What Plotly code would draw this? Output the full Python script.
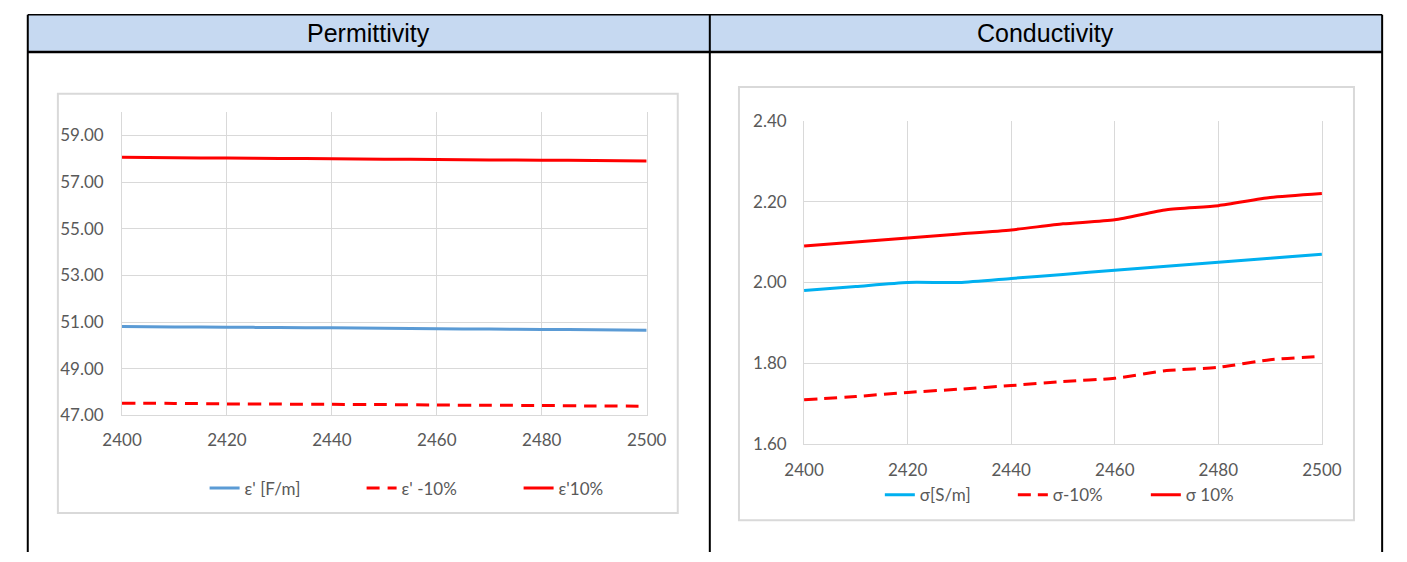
import plotly.graph_objects as go

# ---------------- data ----------------
freq = [2400, 2410, 2420, 2430, 2440, 2450, 2460, 2470, 2480, 2490, 2500]

eps = [50.81, 50.79, 50.78, 50.76, 50.75, 50.73, 50.71, 50.70, 50.68, 50.67, 50.65]
eps_m10 = [47.52, 47.51, 47.49, 47.48, 47.47, 47.46, 47.44, 47.43, 47.42, 47.40, 47.39]
eps_p10 = [58.06, 58.04, 58.03, 58.01, 58.00, 57.98, 57.97, 57.95, 57.94, 57.92, 57.90]

sig = [1.98, 1.99, 2.00, 2.00, 2.01, 2.02, 2.03, 2.04, 2.05, 2.06, 2.07]
sig_m10 = [1.71, 1.718, 1.728, 1.736, 1.745, 1.755, 1.763, 1.782, 1.79, 1.809, 1.817]
sig_p10 = [2.09, 2.10, 2.11, 2.12, 2.13, 2.145, 2.155, 2.18, 2.19, 2.21, 2.22]

x_ticks = [2400, 2420, 2440, 2460, 2480, 2500]
eps_ticks = [47, 49, 51, 53, 55, 57, 59]
sig_ticks = [1.6, 1.8, 2.0, 2.2, 2.4]

titles = ["Permittivity", "Conductivity"]
eps_names = ["ε' [F/m]", "ε' -10%", "ε'10%"]
sig_names = ["σ[S/m]", "σ-10%", "σ 10%"]

# ---------------- layout helpers ----------------
W, H = 1407, 562
def X(px):
    return px / W
def Y(py):
    return 1 - py / H

RED = "#FF0000"
BLUE = "#5B9BD5"
CYAN = "#00B0F0"
GRID = "#D9D9D9"
TXT = "#595959"
FONT = "Lato, Carlito, sans-serif"

fig = go.Figure()

def add(xs, ys, name, color, dash, xa, ya, legend):
    fig.add_trace(go.Scatter(
        x=xs, y=ys, name=name, mode="lines",
        line=dict(color=color, width=3, dash=dash, shape="spline", smoothing=0.6),
        xaxis=xa, yaxis=ya, legend=legend, hoverinfo="skip",
    ))

add(freq, eps, eps_names[0], BLUE, "solid", "x", "y", "legend")
add(freq, eps_m10, eps_names[1], RED, "13px,8px", "x", "y", "legend")
add(freq, eps_p10, eps_names[2], RED, "solid", "x", "y", "legend")
add(freq, sig, sig_names[0], CYAN, "solid", "x2", "y2", "legend2")
add(freq, sig_m10, sig_names[1], RED, "13px,7px", "x2", "y2", "legend2")
add(freq, sig_p10, sig_names[2], RED, "solid", "x2", "y2", "legend2")

tickfont = dict(family=FONT, size=17, color=TXT)

def xaxis(domain, anchor, standoff):
    return dict(
        domain=domain, anchor=anchor, range=[2400, 2500],
        tickvals=x_ticks, ticks="", showgrid=True, gridcolor=GRID, gridwidth=1,
        showline=True, linecolor=GRID, linewidth=1, zeroline=False,
        tickfont=tickfont, ticklabelstandoff=standoff, fixedrange=True,
    )

def yaxis(domain, anchor, rng, tv, standoff):
    return dict(
        domain=domain, anchor=anchor, range=rng,
        tickvals=tv, tickformat=".2f", ticks="", showgrid=True, gridcolor=GRID,
        gridwidth=1, showline=True, mirror=True, linecolor=GRID, linewidth=1,
        zeroline=False, tickfont=tickfont, ticklabelstandoff=standoff,
        fixedrange=True,
    )

legfont = dict(family=FONT, size=17, color=TXT)

shapes = []
# header fill
shapes.append(dict(type="rect", xref="paper", yref="paper",
                   x0=X(8), x1=X(1402), y0=Y(4), y1=Y(42.5),
                   fillcolor="#C6D9F1", line=dict(width=0), layer="below"))
# table borders
def line(x0, y0, x1, y1, w):
    shapes.append(dict(type="line", xref="paper", yref="paper",
                       x0=X(x0), y0=Y(y0), x1=X(x1), y1=Y(y1),
                       line=dict(color="black", width=w)))
line(8, 4, 1402, 4, 1.5)
line(8, 42.5, 1402, 42.5, 2.5)
line(8, 4, 8, 562, 2)
line(710, 4, 710, 562, 2)
line(1402, 4, 1402, 562, 2)
# chart boxes
shapes.append(dict(type="rect", xref="paper", yref="paper",
                   x0=X(39), x1=X(677), y0=Y(86), y1=Y(521.5),
                   line=dict(color=GRID, width=2), layer="below"))
shapes.append(dict(type="rect", xref="paper", yref="paper",
                   x0=X(740), x1=X(1373), y0=Y(79), y1=Y(529),
                   line=dict(color=GRID, width=2), layer="below"))

annotations = [
    dict(text=titles[0], xref="paper", yref="paper", x=X(359), y=Y(23),
         xanchor="center", yanchor="middle", showarrow=False,
         font=dict(family="Liberation Sans, Arial", size=25, color="black")),
    dict(text=titles[1], xref="paper", yref="paper", x=X(1056), y=Y(23),
         xanchor="center", yanchor="middle", showarrow=False,
         font=dict(family="Liberation Sans, Arial", size=25, color="black")),
]

fig.update_layout(
    autosize=True,
    margin=dict(l=0, r=0, t=0, b=0, pad=0),
    paper_bgcolor="white", plot_bgcolor="white",
    xaxis=xaxis([X(105), X(645)], "y", 9),
    yaxis=yaxis([Y(420), Y(105)], "x", [47, 60], eps_ticks, 14),
    xaxis2=xaxis([X(807), X(1340)], "y2", 10),
    yaxis2=yaxis([Y(450), Y(114)], "x2", [1.6, 2.4], sig_ticks, 13),
    legend=dict(orientation="h", x=X(190), y=Y(496), xanchor="left", yanchor="middle",
                font=legfont, bgcolor="rgba(0,0,0,0)", entrywidth=112,
                entrywidthmode="pixels", itemclick=False, itemdoubleclick=False),
    legend2=dict(orientation="h", x=X(885), y=Y(503), xanchor="left", yanchor="middle",
                 font=legfont, bgcolor="rgba(0,0,0,0)", entrywidth=88,
                 entrywidthmode="pixels", itemclick=False, itemdoubleclick=False),
    shapes=shapes,
    annotations=annotations,
    showlegend=True,
)

post = (
    "var gd=document.getElementById('{plot_id}');"
    "document.documentElement.style.height='100%';"
    "document.documentElement.style.margin='0';"
    "document.body.style.height='100%';"
    "document.body.style.margin='0';"
    "document.body.style.overflow='hidden';"
    "if(gd.parentElement){gd.parentElement.style.height='100%';gd.parentElement.style.width='100%';}"
    "gd.style.height='100%';gd.style.width='100%';"
    "Plotly.Plots.resize(gd);"
)

fig.write_html("out.html", default_width="100%", default_height="100%",
               config={"displayModeBar": False, "responsive": True},
               post_script=post)
